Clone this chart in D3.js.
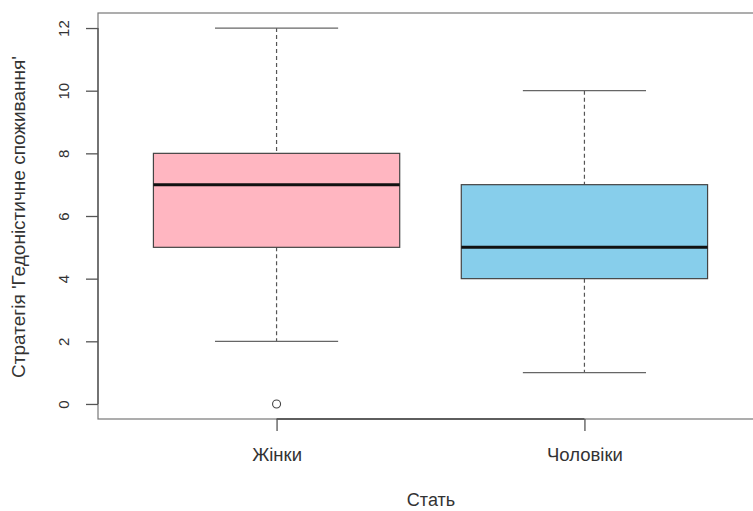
<!DOCTYPE html>
<html>
<head>
<meta charset="utf-8">
<script src="https://cdn.jsdelivr.net/npm/d3@7"></script>
<style>
  body { margin: 0; background: #fff; }
  text { font-family: "Liberation Sans", Arial, sans-serif; fill: #333; }
</style>
</head>
<body>
<div id="chart"></div>
<script>
// values
const groups = ["Жінки", "Чоловіки"];
const lowWhisker = [2, 1];
const q1 = [5, 4];
const median = [7, 5];
const q3 = [8, 7];
const highWhisker = [12, 10];
const outliers = [[0], []];
const fills = ["#FFB6C1", "#87CEEB"];
const yTicks = [0, 2, 4, 6, 8, 10, 12];

const width = 753, height = 511;
const plot = {left: 98, right: 763, top: 13, bottom: 419};

const svg = d3.select("#chart").append("svg")
    .attr("width", width)
    .attr("height", height);

// R style: 4% padding round 0.5..2.5 and 0..12
const x = d3.scaleLinear()
    .domain([0.42, 2.58])
    .range([plot.left, plot.right]);

const y = d3.scaleLinear()
    .domain([-0.48, 12.48])
    .range([plot.bottom, plot.top]);

const boxW = x(1.4) - x(1);     // half of 0.8
const capW = boxW / 2;

// frame (right side falls off the picture)
svg.append("rect")
    .attr("x", plot.left)
    .attr("y", plot.top)
    .attr("width", plot.right - plot.left)
    .attr("height", plot.bottom - plot.top)
    .attr("fill", "none")
    .attr("stroke", "#777")
    .attr("stroke-width", 1.2);

const data = groups.map((g, i) => ({
    name: g, pos: i + 1,
    lo: lowWhisker[i], q1: q1[i], med: median[i], q3: q3[i], hi: highWhisker[i],
    out: outliers[i], fill: fills[i]
}));

const box = svg.append("g").selectAll("g")
    .data(data)
    .join("g");

// dashed whiskers
box.append("line")
    .attr("x1", d => x(d.pos)).attr("x2", d => x(d.pos))
    .attr("y1", d => y(d.hi)).attr("y2", d => y(d.q3))
    .attr("stroke", "#555").attr("stroke-dasharray", "4,3").attr("stroke-width", 1.2);
box.append("line")
    .attr("x1", d => x(d.pos)).attr("x2", d => x(d.pos))
    .attr("y1", d => y(d.q1)).attr("y2", d => y(d.lo))
    .attr("stroke", "#555").attr("stroke-dasharray", "4,3").attr("stroke-width", 1.2);

// caps
box.selectAll("line.cap")
    .data(d => [d.lo, d.hi].map(v => ({pos: d.pos, v})))
    .join("line")
    .attr("class", "cap")
    .attr("x1", d => x(d.pos) - capW).attr("x2", d => x(d.pos) + capW)
    .attr("y1", d => y(d.v)).attr("y2", d => y(d.v))
    .attr("stroke", "#666").attr("stroke-width", 1.3);

// boxes
box.append("rect")
    .attr("x", d => x(d.pos) - boxW)
    .attr("width", 2 * boxW)
    .attr("y", d => y(d.q3))
    .attr("height", d => y(d.q1) - y(d.q3))
    .attr("fill", d => d.fill)
    .attr("stroke", "#444")
    .attr("stroke-width", 1.2);

// medians
box.append("line")
    .attr("x1", d => x(d.pos) - boxW).attr("x2", d => x(d.pos) + boxW)
    .attr("y1", d => y(d.med)).attr("y2", d => y(d.med))
    .attr("stroke", "#111").attr("stroke-width", 3);

// outliers
box.selectAll("circle")
    .data(d => d.out.map(v => ({pos: d.pos, v})))
    .join("circle")
    .attr("cx", d => x(d.pos))
    .attr("cy", d => y(d.v))
    .attr("r", 4)
    .attr("fill", "none")
    .attr("stroke", "#444")
    .attr("stroke-width", 1.1);

// y axis
const yAxis = svg.append("g")
    .attr("transform", `translate(${plot.left},0)`)
    .call(d3.axisLeft(y).tickValues(yTicks).tickSize(12).tickPadding(16).tickSizeOuter(0));
yAxis.select(".domain")
    .attr("d", `M0,${y(yTicks[0])}V${y(yTicks[yTicks.length - 1])}`)
    .attr("stroke", "#555").attr("stroke-width", 1.3);
yAxis.selectAll(".tick line").attr("stroke", "#555").attr("stroke-width", 1.3);
yAxis.selectAll(".tick text")
    .attr("font-size", 15)
    .attr("fill", "#333")
    .attr("text-anchor", "middle")
    .attr("dy", null)
    .attr("transform", "translate(-33,0) rotate(-90)")
    .attr("x", 0)
    .attr("y", 0)
    .attr("dominant-baseline", "middle");

// x axis
const xAxis = svg.append("g")
    .attr("transform", `translate(0,${plot.bottom})`)
    .call(d3.axisBottom(x).tickValues([1, 2]).tickFormat(d => groups[d - 1])
        .tickSize(12).tickPadding(17).tickSizeOuter(0));
xAxis.select(".domain")
    .attr("d", `M${x(1)},0H${x(2)}`)
    .attr("stroke", "#444").attr("stroke-width", 1.5);
xAxis.selectAll(".tick line").attr("stroke", "#555").attr("stroke-width", 1.3);
xAxis.selectAll(".tick text").attr("font-size", 18.5).attr("fill", "#333");

// titles
svg.append("text")
    .attr("x", 431)
    .attr("y", 506)
    .attr("text-anchor", "middle")
    .attr("font-size", 18)
    .text("Стать");

svg.append("text")
    .attr("transform", `translate(25,${(plot.top + plot.bottom) / 2 + 1}) rotate(-90)`)
    .attr("text-anchor", "middle")
    .attr("font-size", 19)
    .text("Стратегія 'Гедоністичне споживання'");
</script>
</body>
</html>
